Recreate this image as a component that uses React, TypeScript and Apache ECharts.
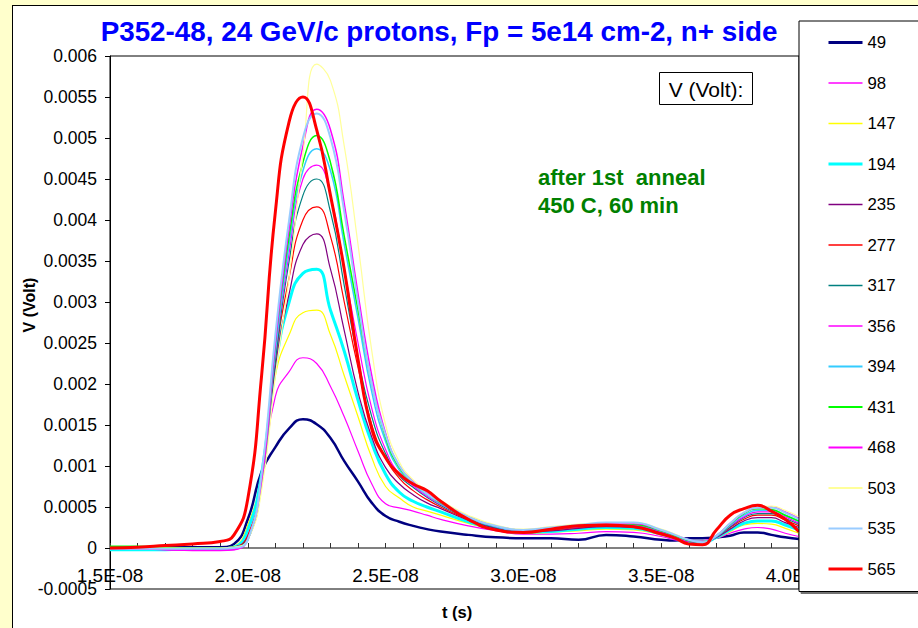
import React, { useEffect, useRef } from "react";
import * as echarts from "echarts";

const TITLE = "P352-48, 24 GeV/c protons, Fp = 5e14 cm-2, n+ side";
const Y_NAME = "V (Volt)";
const X_NAME = "t (s)";
const BOX_NOTE = "V (Volt):";
const NOTE_LINES = ["after 1st  anneal", "450 C, 60 min"];

// time in ns (axis labels shown in seconds, e.g. 2.0E-08)
const T_NS = [15, 16, 17, 18, 19, 19.5, 20, 20.5, 21, 21.5, 22, 22.5, 23, 23.5, 24, 24.5, 25, 25.5, 26, 26.5, 27, 28, 29, 30, 31, 32, 33, 34, 35, 35.5, 36, 36.5, 37, 37.5, 38, 38.5, 39, 39.5, 40];

const LABELS = ["49", "98", "147", "194", "235", "277", "317", "356", "394", "431", "468", "503", "535", "565"];

const V49 = [0.00001, 0.00001, 0.00001, 0.00001, 0.00001, 0.00005, 0.00035, 0.00093, 0.00123, 0.00146, 0.00157, 0.00151, 0.00134, 0.00106, 0.00081, 0.00055, 0.00039, 0.00032, 0.00027, 0.00023, 0.0002, 0.00016, 0.00013, 0.00012, 0.00012, 0.0001, 0.00016, 0.00014, 0.0001, 0.00009, 0.00012, 0.00012, 0.00013, 0.00015, 0.00019, 0.00019, 0.00016, 0.00013, 0.00011];
const V98 = [-0.00001, -0.00001, -0.00002, -0.00002, -0.00002, -0.00001, 0.0002, 0.00085, 0.00185, 0.00215, 0.00232, 0.00225, 0.00197, 0.0016, 0.00118, 0.00078, 0.00054, 0.00049, 0.00045, 0.0004, 0.00035, 0.00027, 0.00021, 0.00017, 0.00017, 0.00018, 0.0002, 0.00019, 0.00014, 0.0001, 0.00008, 0.00009, 0.00012, 0.00018, 0.00023, 0.00025, 0.00023, 0.00018, 0.00014];
const V147 = [0.00001, 0, -0.00001, -0.00001, -0.00001, 0.00002, 0.00028, 0.0009, 0.0021, 0.0026, 0.00287, 0.0029, 0.0026, 0.0021, 0.0016, 0.0011, 0.00075, 0.00061, 0.0005, 0.00045, 0.0004, 0.0003, 0.00022, 0.00018, 0.00019, 0.00021, 0.00023, 0.00022, 0.00016, 0.00012, 0.00008, 0.00008, 0.00012, 0.0002, 0.00028, 0.0003, 0.00029, 0.00024, 0.00018];
const V194 = [-0.00002, -0.00002, -0.00002, -0.00001, -0.00001, 0.00001, 0.00022, 0.0009, 0.0022, 0.003, 0.00335, 0.0034, 0.0029, 0.0024, 0.0018, 0.00128, 0.0009, 0.00068, 0.00057, 0.0005, 0.00044, 0.00032, 0.00023, 0.00019, 0.0002, 0.00023, 0.00025, 0.00024, 0.00017, 0.00012, 0.00008, 0.00007, 0.00013, 0.00022, 0.0003, 0.00033, 0.00033, 0.00028, 0.00022];
const V235 = [0, 0, 0, -0.00001, -0.00001, 0.00001, 0.00015, 0.0008, 0.0022, 0.0031, 0.0037, 0.00383, 0.0034, 0.00265, 0.0019, 0.00135, 0.00098, 0.00078, 0.00065, 0.00055, 0.00048, 0.00034, 0.00024, 0.0002, 0.00021, 0.00024, 0.00026, 0.00025, 0.00018, 0.00013, 0.00008, 0.00007, 0.00013, 0.00023, 0.00033, 0.00037, 0.00037, 0.00031, 0.00025];
const V277 = [0, 0, 0, 0, 0, 0.00001, 0.00015, 0.0008, 0.0023, 0.0033, 0.004, 0.00416, 0.0038, 0.003, 0.0022, 0.0015, 0.0011, 0.00085, 0.0007, 0.00059, 0.0005, 0.00035, 0.00025, 0.0002, 0.00022, 0.00025, 0.00027, 0.00026, 0.00019, 0.00013, 0.00008, 0.00007, 0.00014, 0.00025, 0.00035, 0.0004, 0.0004, 0.00034, 0.00027];
const V317 = [0, 0, 0, 0, 0, 0.00001, 0.00012, 0.0008, 0.0023, 0.0035, 0.0043, 0.0045, 0.0041, 0.0032, 0.0023, 0.0016, 0.00115, 0.00088, 0.00074, 0.00062, 0.00052, 0.00036, 0.00025, 0.00021, 0.00023, 0.00026, 0.00028, 0.00027, 0.0002, 0.00014, 0.00008, 0.00007, 0.00014, 0.00026, 0.00037, 0.00042, 0.00042, 0.00036, 0.00029];
const V356 = [-0.00001, -0.00001, -0.00002, -0.00003, -0.00003, -0.00002, 0.00012, 0.0008, 0.0024, 0.0036, 0.0045, 0.00467, 0.0043, 0.0034, 0.0025, 0.0017, 0.0012, 0.0009, 0.00076, 0.00063, 0.00053, 0.00037, 0.00026, 0.00021, 0.00023, 0.00026, 0.00029, 0.00028, 0.0002, 0.00014, 0.00008, 0.00007, 0.00014, 0.00027, 0.00038, 0.00044, 0.00044, 0.00038, 0.0003];
const V394 = [0, 0, 0, 0, 0, 0.00001, 0.0001, 0.0008, 0.0024, 0.0037, 0.0046, 0.00487, 0.0046, 0.0037, 0.0028, 0.0019, 0.0013, 0.00095, 0.00078, 0.00065, 0.00054, 0.00037, 0.00026, 0.00021, 0.00024, 0.00027, 0.0003, 0.00029, 0.00021, 0.00015, 0.00009, 0.00007, 0.00014, 0.00028, 0.0004, 0.00046, 0.00046, 0.0004, 0.00032];
const V431 = [0.00002, 0.00002, 0.00001, 0, 0, 0.00001, 0.0001, 0.0008, 0.0025, 0.0038, 0.0047, 0.00503, 0.0047, 0.0038, 0.0029, 0.002, 0.00135, 0.00098, 0.0008, 0.00066, 0.00055, 0.00038, 0.00027, 0.00022, 0.00024, 0.00027, 0.0003, 0.00029, 0.00021, 0.00015, 0.00009, 0.00007, 0.00015, 0.00029, 0.00042, 0.00048, 0.00047, 0.0004, 0.00033];
const V468 = [-0.00001, -0.00001, -0.00002, -0.00003, -0.00003, -0.00002, 0.0001, 0.0008, 0.0025, 0.0039, 0.0049, 0.00535, 0.0051, 0.0042, 0.0031, 0.0021, 0.0014, 0.001, 0.00081, 0.00067, 0.00056, 0.00038, 0.00027, 0.00022, 0.00025, 0.00028, 0.0003, 0.0003, 0.00022, 0.00016, 0.0001, 0.00007, 0.00015, 0.0003, 0.00043, 0.00049, 0.0005, 0.00044, 0.00036];
const V503 = [0, 0, 0, 0, 0, 0.00001, 0.0001, 0.0007, 0.0021, 0.0033, 0.0048, 0.0059, 0.0057, 0.0049, 0.0037, 0.0024, 0.0015, 0.00105, 0.00083, 0.0007, 0.00058, 0.0004, 0.00028, 0.00023, 0.00026, 0.00029, 0.00031, 0.00031, 0.00023, 0.00017, 0.0001, 0.00007, 0.00015, 0.0003, 0.00044, 0.0005, 0.00051, 0.00046, 0.00038];
const V535 = [-0.00001, -0.00001, -0.00001, -0.00001, -0.00001, 0, 0.0001, 0.0009, 0.0026, 0.004, 0.005, 0.0053, 0.005, 0.0041, 0.003, 0.002, 0.00138, 0.001, 0.0008, 0.00066, 0.00056, 0.00038, 0.00027, 0.00022, 0.00025, 0.00028, 0.00031, 0.00031, 0.00022, 0.00016, 0.0001, 0.00007, 0.00015, 0.0003, 0.00043, 0.00049, 0.00049, 0.00043, 0.00035];
const V565 = [0, 0.00001, 0.00003, 0.00005, 0.00008, 0.00016, 0.0006, 0.0021, 0.0041, 0.0052, 0.0055, 0.0051, 0.0043, 0.0034, 0.0023, 0.00145, 0.0011, 0.0009, 0.00078, 0.0007, 0.00057, 0.00035, 0.00022, 0.00019, 0.00023, 0.00027, 0.00028, 0.00026, 0.00017, 0.00012, 0.00005, 0.00004, 0.00022, 0.0004, 0.00048, 0.00052, 0.00045, 0.00035, 0.0002];

const SERIES_VALUES = [V49, V98, V147, V194, V235, V277, V317, V356, V394, V431, V468, V503, V535, V565];

const COLORS = ["#000080", "#FF00FF", "#FFFF00", "#00FFFF", "#800080", "#FF0000", "#008080", "#FF00FF", "#33CCFF", "#00FF00", "#FF00FF", "#FFFF99", "#99CCFF", "#FF0000"];
const WIDTHS = [2.5, 1.2, 1.2, 3, 1.2, 1.2, 1.2, 1.2, 1.5, 1.5, 1.5, 1.2, 2, 3];
const LEGEND_WIDTHS = [3, 1.5, 1.5, 3, 1.5, 1.5, 1.5, 1.5, 2, 2, 2, 2, 2, 3];

const FONT = "'Liberation Sans', Arial, Helvetica, sans-serif";

export default function App() {
  const ref = useRef<HTMLDivElement>(null);

  useEffect(() => {
    if (!ref.current) return;
    const chart = echarts.init(ref.current, undefined, { renderer: "svg" });

    const series = LABELS.map((name, k) => ({
      name,
      type: "line",
      smooth: true,
      symbol: "none",
      data: T_NS.map((t, i) => [t, SERIES_VALUES[k][i]]),
      lineStyle: { color: COLORS[k], width: WIDTHS[k] },
      itemStyle: { color: COLORS[k] },
      emphasis: { disabled: true },
    }));

    chart.setOption({
      animation: false,
      backgroundColor: "#FFFFFF",
      textStyle: { fontFamily: FONT },
      grid: {
        left: 110,
        right: 119,
        top: 56,
        bottom: 39,
        show: true,
        borderColor: "#000",
        borderWidth: 1,
        backgroundColor: "transparent",
      },
      xAxis: {
        type: "value",
        min: 15,
        max: 40,
        interval: 5,
        axisLine: { onZero: true, lineStyle: { color: "#808080", width: 2 } },
        axisTick: { show: true, inside: true, length: 5, lineStyle: { color: "#333" } },
        minorTick: { show: true, splitNumber: 5, length: 5, lineStyle: { color: "#333" } },
        axisLabel: {
          color: "#000",
          fontSize: 19,
          fontFamily: FONT,
          margin: -23,
          formatter: (v: number) => (v / 10).toFixed(1) + "E-08",
        },
        splitLine: { show: false },
        minorSplitLine: { show: false },
      },
      yAxis: {
        type: "value",
        min: -0.0005,
        max: 0.006,
        interval: 0.0005,
        axisLine: { show: true, onZero: false, lineStyle: { color: "#000", width: 1 } },
        axisTick: { show: true, inside: false, length: 5, lineStyle: { color: "#000" } },
        axisLabel: {
          color: "#000",
          fontSize: 17.5,
          fontFamily: FONT,
          margin: 13,
          formatter: (v: number) => String(+v.toFixed(4)),
        },
        splitLine: { show: false },
      },
      legend: {
        orient: "vertical",
        left: 799,
        top: 21,
        padding: [13, 26, 14, 28],
        itemWidth: 34,
        itemHeight: 14,
        itemGap: 23.5,
        backgroundColor: "#FFFFFF",
        borderColor: "#000",
        borderWidth: 1,
        shadowColor: "rgba(0,0,0,0.55)",
        shadowBlur: 1,
        shadowOffsetX: 2,
        shadowOffsetY: 2,
        selectedMode: false,
        itemStyle: { opacity: 0 },
        textStyle: { color: "#000", fontSize: 16.8, fontFamily: FONT },
        data: LABELS.map((name, k) => ({
          name,
          lineStyle: { width: LEGEND_WIDTHS[k], color: COLORS[k], opacity: 1 },
        })),
      },
      graphic: [
        { type: "rect", silent: true, shape: { x: 0, y: 0, width: 12, height: 628 }, style: { fill: "#FFFFCC" } },
        { type: "rect", silent: true, shape: { x: 0, y: 0, width: 918, height: 5 }, style: { fill: "#FFFFCC" } },
        { type: "line", silent: true, shape: { x1: 12.5, y1: 5, x2: 12.5, y2: 628 }, style: { stroke: "#000", lineWidth: 1 } },
        { type: "line", silent: true, shape: { x1: 12, y1: 5.5, x2: 918, y2: 5.5 }, style: { stroke: "#000", lineWidth: 1 } },
        {
          type: "text",
          silent: true,
          x: 439,
          y: 31,
          style: { text: TITLE, fill: "#0000FF", fontSize: 27.8, fontWeight: "bold", fontFamily: FONT, align: "center", verticalAlign: "middle" },
        },
        {
          type: "text",
          silent: true,
          x: 29,
          y: 305,
          rotation: Math.PI / 2,
          style: { text: Y_NAME, fill: "#000", fontSize: 16, fontWeight: "bold", fontFamily: FONT, align: "center", verticalAlign: "middle" },
        },
        {
          type: "text",
          silent: true,
          x: 457,
          y: 612,
          style: { text: X_NAME, fill: "#000", fontSize: 16.5, fontWeight: "bold", fontFamily: FONT, align: "center", verticalAlign: "middle" },
        },
        {
          type: "rect",
          silent: true,
          z: 10,
          shape: { x: 659.5, y: 72.5, width: 93, height: 32 },
          style: { fill: "#FFFFFF", stroke: "#000", lineWidth: 1 },
        },
        {
          type: "text",
          silent: true,
          z: 11,
          x: 706,
          y: 89,
          style: { text: BOX_NOTE, fill: "#000", fontSize: 21, fontFamily: FONT, align: "center", verticalAlign: "middle" },
        },
        {
          type: "text",
          silent: true,
          z: 11,
          x: 538,
          y: 177,
          style: { text: NOTE_LINES[0], fill: "#008000", fontSize: 22, fontWeight: "bold", fontFamily: FONT, align: "left", verticalAlign: "middle" },
        },
        {
          type: "text",
          silent: true,
          z: 11,
          x: 538,
          y: 205,
          style: { text: NOTE_LINES[1], fill: "#008000", fontSize: 22, fontWeight: "bold", fontFamily: FONT, align: "left", verticalAlign: "middle" },
        },
      ],
      series,
    });

    return () => chart.dispose();
  }, []);

  return <div ref={ref} style={{ position: "absolute", left: 0, top: 0, width: 918, height: 628 }} />;
}
